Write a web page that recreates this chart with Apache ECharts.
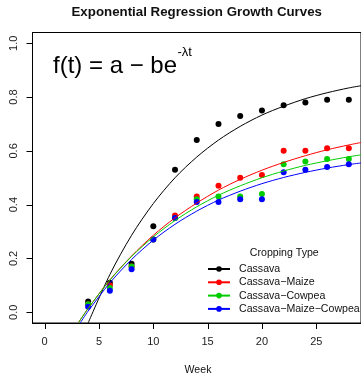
<!DOCTYPE html>
<html>
<head>
<meta charset="UTF-8">
<title>Exponential Regression Growth Curves</title>
<script src="https://cdn.jsdelivr.net/npm/echarts@6/dist/echarts.min.js"></script>
<style>
  html, body { margin: 0; padding: 0; background: #fff; }
  #chart { width: 361px; height: 375px; }
</style>
</head>
<body>
<div id="chart"></div>
<script>
// observed weeks and mean values per cropping type
var weeks = [4, 6, 8, 10, 12, 14, 16, 18, 20, 22, 24, 26, 28];
var cassava = [0.04, 0.11, 0.18, 0.32, 0.53, 0.64, 0.70, 0.73, 0.75, 0.77, 0.78, 0.79, 0.79];
var cassavaMaize = [0.03, 0.10, 0.17, 0.27, 0.36, 0.43, 0.47, 0.50, 0.51, 0.60, 0.60, 0.61, 0.61];
var cassavaCowpea = [0.03, 0.09, 0.17, 0.27, 0.35, 0.42, 0.43, 0.43, 0.44, 0.55, 0.56, 0.57, 0.57];
var cassavaMaizeCowpea = [0.02, 0.08, 0.16, 0.27, 0.35, 0.41, 0.41, 0.42, 0.42, 0.52, 0.53, 0.54, 0.55];

// fitted curves
var fitWeeks = [4, 6, 8, 10, 12, 14, 16, 18, 20, 22, 24, 26, 28, 29.12];
var fitCassava = [-0.04, 0.14, 0.286, 0.404, 0.50, 0.577, 0.64, 0.691, 0.733, 0.766, 0.794, 0.816, 0.834, 0.842];
var fitMaize = [0.014, 0.12, 0.209, 0.286, 0.351, 0.406, 0.454, 0.494, 0.528, 0.557, 0.582, 0.604, 0.622, 0.631];
var fitCowpea = [0.014, 0.119, 0.207, 0.28, 0.341, 0.392, 0.435, 0.47, 0.50, 0.525, 0.546, 0.563, 0.578, 0.585];
var fitMixed = [0.004, 0.109, 0.196, 0.268, 0.327, 0.376, 0.417, 0.45, 0.478, 0.501, 0.52, 0.536, 0.549, 0.555];
// where each curve leaves the bottom of the plot
var fitStart = { maize: 3.08, cowpea: 3.1, mixed: 3.27 };

var names = ['Cassava', 'Cassava\u2212Maize', 'Cassava\u2212Cowpea', 'Cassava\u2212Maize\u2212Cowpea'];
var colors = ['#000000', '#ff0000', '#00cd00', '#0000ff'];
var xTicks = [0, 5, 10, 15, 20, 25];
var yTicks = [0, 0.2, 0.4, 0.6, 0.8, 1.0];
var xMin = -1.12, xMax = 29.12, yMin = -0.04, yMax = 1.04;

function pairs(xs, ys) {
  return xs.map(function (x, i) { return [x, ys[i]]; });
}

var pointSets = [cassava, cassavaMaize, cassavaCowpea, cassavaMaizeCowpea];
var fitSets = [
  pairs(fitWeeks, fitCassava),
  [[fitStart.maize, -0.04]].concat(pairs(fitWeeks, fitMaize)),
  [[fitStart.cowpea, -0.04]].concat(pairs(fitWeeks, fitCowpea)),
  [[fitStart.mixed, -0.04]].concat(pairs(fitWeeks, fitMixed))
];

var series = [];
pointSets.forEach(function (vals, i) {
  series.push({
    name: 'pts' + i,
    type: 'scatter',
    data: pairs(weeks, vals),
    symbol: 'circle',
    symbolSize: 6,
    itemStyle: { color: colors[i], opacity: 1 },
    silent: true,
    z: 2
  });
});
fitSets.forEach(function (d, i) {
  series.push({
    name: names[i],
    type: 'line',
    data: d,
    smooth: 0.3,
    symbol: 'circle',
    showSymbol: false,
    clip: true,
    lineStyle: { color: colors[i], width: 1 },
    itemStyle: { color: colors[i] },
    silent: true,
    z: 3
  });
});

var font = 'Liberation Sans, Arial, sans-serif';
var chart = echarts.init(document.getElementById('chart'));
chart.setOption({
  animation: false,
  textStyle: { fontFamily: font },
  grid: { left: 32.5, top: 32.5, right: -1.5, bottom: 52, show: true, borderColor: '#000', borderWidth: 1 },
  xAxis: {
    type: 'value', min: xMin, max: xMax,
    axisLine: { show: true, onZero: false, lineStyle: { color: '#000', width: 1 } },
    axisTick: { show: false },
    axisLabel: { customValues: xTicks, fontSize: 11, color: '#222', margin: 13 },
    splitLine: { show: false }
  },
  yAxis: {
    type: 'value', min: yMin, max: yMax,
    axisLine: { show: true, onZero: false, lineStyle: { color: '#000', width: 1 } },
    axisTick: { show: false },
    axisLabel: {
      customValues: yTicks, fontSize: 11, color: '#222', rotate: 90, margin: 13,
      formatter: function (v) { return v.toFixed(1); }
    },
    splitLine: { show: false }
  },
  legend: {
    data: names,
    orient: 'vertical',
    left: 207, top: 263, padding: 0,
    itemWidth: 22, itemHeight: 7, itemGap: 1.3,
    textStyle: { fontSize: 10.6, color: '#111', lineHeight: 12, padding: [0, 0, 0, 4] },
    selectedMode: false
  },
  series: series
});

// texts plus outward R-style ticks; tick positions come from the chart's own scales
var gfx = [
  { type: 'text', id: 'title', left: 197.5 - 126, top: 6,
    style: { text: 'Exponential Regression Growth Curves', font: 'bold 13.3px ' + font, fill: '#111' } },
  { type: 'text', id: 'formula', x: 53, y: 66.5,
    style: { text: 'f(t) = a \u2212 be', font: '24px ' + font, fill: '#000', textVerticalAlign: 'middle' } },
  { type: 'text', id: 'formulaSup', x: 177.5, y: 52,
    style: { text: '-\u03bbt', font: '13px ' + font, fill: '#000', textVerticalAlign: 'middle' } },
  { type: 'text', id: 'legendTitle', x: 284.3, y: 252.7,
    style: { text: 'Cropping Type', font: '10.6px ' + font, fill: '#111', textAlign: 'center', textVerticalAlign: 'middle' } },
  { type: 'text', id: 'xName', x: 198, y: 370,
    style: { text: 'Week', font: '10.6px ' + font, fill: '#111', textAlign: 'center', textVerticalAlign: 'middle' } }
];
xTicks.forEach(function (v, i) {
  var p = chart.convertToPixel({ seriesIndex: 0 }, [v, yMin]);
  var x = Math.round(p[0]) + 0.5;
  gfx.push({ type: 'polyline', id: 'xt' + i, z: 100, silent: true,
    shape: { points: [[x, p[1]], [x, p[1] + 6]] }, style: { stroke: '#000', lineWidth: 1, fill: null } });
});
yTicks.forEach(function (v, i) {
  var p = chart.convertToPixel({ seriesIndex: 0 }, [xMin, v]);
  var y = Math.round(p[1]) + 0.5;
  gfx.push({ type: 'polyline', id: 'yt' + i, z: 100, silent: true,
    shape: { points: [[p[0], y], [p[0] - 6, y]] }, style: { stroke: '#000', lineWidth: 1, fill: null } });
});
chart.setOption({ graphic: gfx });
</script>
</body>
</html>
